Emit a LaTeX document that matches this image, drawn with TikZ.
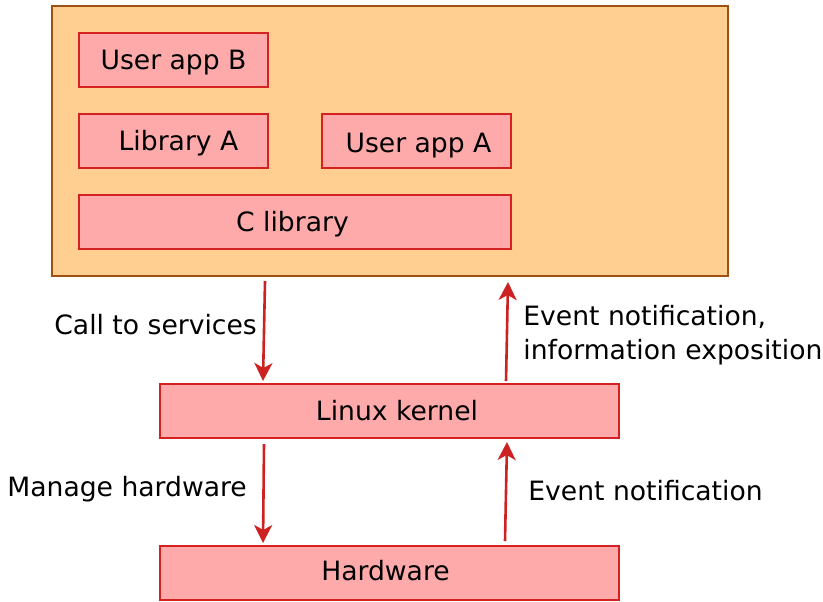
\documentclass[tikz,border=0pt]{standalone}
\usepackage{fontspec}
\setmainfont{DejaVu Sans}
\usetikzlibrary{arrows.meta,fit}
\definecolor{outerfill}{RGB}{255,207,145}
\definecolor{outerdraw}{RGB}{160,80,16}
\definecolor{boxfill}{RGB}{255,170,170}
\definecolor{boxdraw}{RGB}{212,34,34}
\definecolor{arrowc}{RGB}{204,34,34}
\begin{document}
\begin{tikzpicture}[x=0.5pt,y=-0.5pt,
  font=\fontsize{13.3}{17}\selectfont,
  outerbox/.style={draw=outerdraw, fill=outerfill, line width=1.2pt, inner sep=0pt},
  box/.style={draw=boxdraw, fill=boxfill, line width=1.2pt, inner sep=0pt},
  flow/.style={draw=arrowc, line width=1.3pt, -{Stealth[length=9pt,width=9pt,inset=2.5pt]}},
  boxtxt/.style={inner sep=0pt, anchor=base},
  lbl/.style={inner sep=0pt, anchor=base west}]
\useasboundingbox (0,0) rectangle (823,601);
% outer user-space box
\node[outerbox, fit={(52,6) (728,276)}] (user) {};
% inner boxes
\node[box, fit={(79,33) (268,87)}] (appb) {};
\node[box, fit={(79,114) (268,168)}] (liba) {};
\node[box, fit={(322,114) (511,168)}] (appa) {};
\node[box, fit={(79,195) (511,249)}] (clib) {};
\node[box, fit={(160,384) (619,438)}] (kernel) {};
\node[box, fit={(160,546) (619,600)}] (hw) {};
% box texts
\node[boxtxt] (tappb) at (173.5,69) {User app B};
\node[boxtxt] (tliba) at (178.5,150.5) {Library A};
\node[boxtxt] (tappa) at (418.5,152) {User app A};
\node[boxtxt] (tclib) at (292.5,231.5) {C library};
\node[boxtxt] (tkern) at (397,420.5) {Linux kernel};
\node[boxtxt] (thw) at (385.5,580.5) {Hardware};
% connector ends
\coordinate (a1s) at (265,281);
\coordinate (a1e) at (263,381);
\coordinate (a2s) at (506,381);
\coordinate (a2e) at (508,282);
\coordinate (a3s) at (264,444);
\coordinate (a3e) at (263,543);
\coordinate (a4s) at (505,541);
\coordinate (a4e) at (507,442);
\draw[flow] (a1s) -- (a1e);
\draw[flow] (a2s) -- (a2e);
\draw[flow] (a3s) -- (a3e);
\draw[flow] (a4s) -- (a4e);
% labels
\node[lbl] (l1) at (54,334) {Call to services};
\node[lbl] (l2a) at (523,325.5) {Event notification,};
\node[lbl] (l2b) at (523,359.5) {information exposition};
\node[lbl] (l3) at (7,496.5) {Manage hardware};
\node[lbl] (l4) at (528,500.5) {Event notification};
\end{tikzpicture}
\end{document}
